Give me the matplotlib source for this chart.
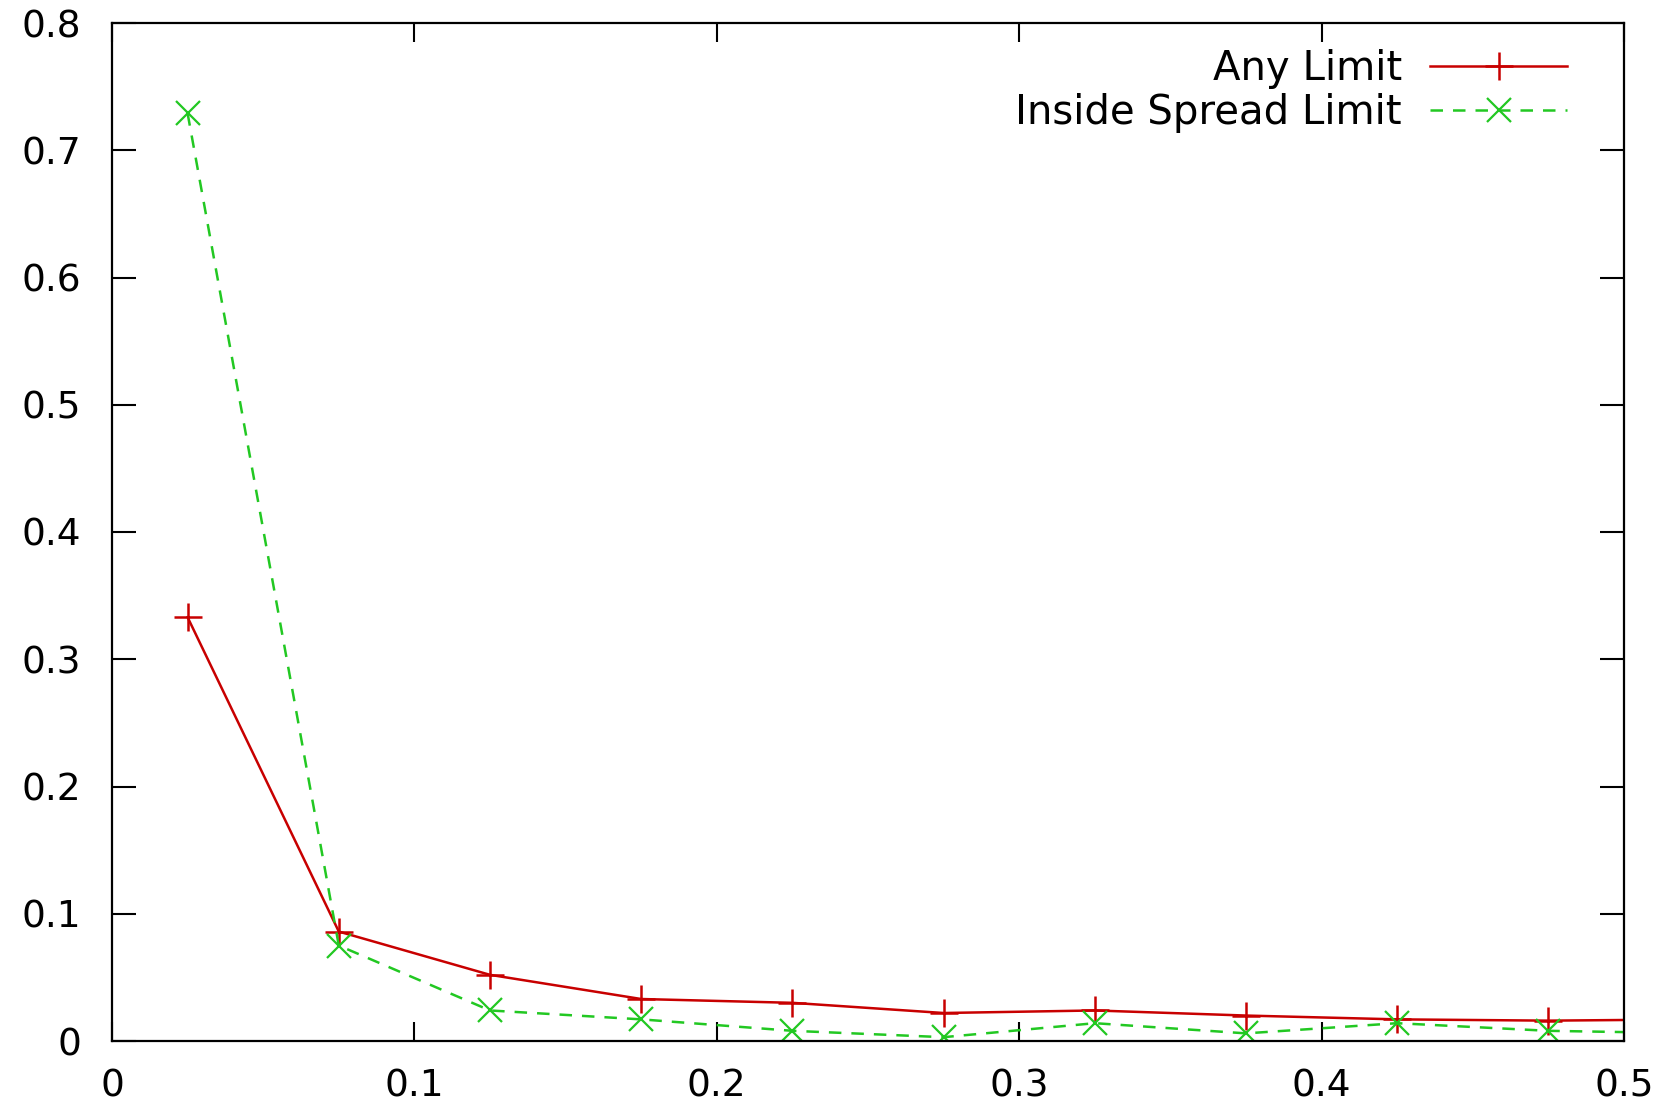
import matplotlib.pyplot as plt

# bin centres; the last point lies past the right edge and is clipped
x = [0.025, 0.075, 0.125, 0.175, 0.225, 0.275, 0.325, 0.375, 0.425, 0.475, 0.525]
any_limit = [0.333, 0.086, 0.052, 0.033, 0.030, 0.022, 0.024, 0.020, 0.017, 0.016, 0.017]
inside_spread = [0.729, 0.075, 0.024, 0.017, 0.008, 0.003, 0.014, 0.006, 0.014, 0.008, 0.006]

xticks = [0, 0.1, 0.2, 0.3, 0.4, 0.5]
xlabels = ['0', '0.1', '0.2', '0.3', '0.4', '0.5']
yticks = [0, 0.1, 0.2, 0.3, 0.4, 0.5, 0.6, 0.7, 0.8]
ylabels = ['0', '0.1', '0.2', '0.3', '0.4', '0.5', '0.6', '0.7', '0.8']

plt.rcParams['font.family'] = ['DejaVu Sans']

W, H = 1675, 1102
fig = plt.figure(figsize=(W / 100, H / 100), dpi=100)
left, right, top, bottom = 112, 1624, 23, 1041
ax = fig.add_axes([left / W, 1 - bottom / H, (right - left) / W, (bottom - top) / H])

ax.plot(x, any_limit, color='#c80000', lw=1.8, marker='+', ms=20, mew=1.8,
        label='Any Limit')
ax.plot(x, inside_spread, color='#22c822', lw=1.8, ls=(0, (5, 4)), marker='x',
        ms=17, mew=1.6, label='Inside Spread Limit')

ax.set_xlim(0, 0.5)
ax.set_ylim(0, 0.8)
ax.set_xticks(xticks)
ax.set_yticks(yticks)
ax.set_xticklabels(xlabels)
ax.set_yticklabels(ylabels)
ax.tick_params(direction='in', width=1.5, labelsize=27, top=True, right=True)
ax.tick_params(axis='y', length=17, pad=22)
ax.tick_params(axis='x', length=14, pad=20)
for s in ax.spines.values():
    s.set_linewidth(1.6)

ax.legend(loc='upper right', frameon=False, markerfirst=False, fontsize=29,
          handlelength=3.4, handletextpad=0.7, labelspacing=0.1,
          borderaxespad=0, borderpad=0,
          bbox_to_anchor=((1567 - left) / (right - left), 1 - (49 - top) / (bottom - top)))

fig.savefig('out.png', dpi=100)
